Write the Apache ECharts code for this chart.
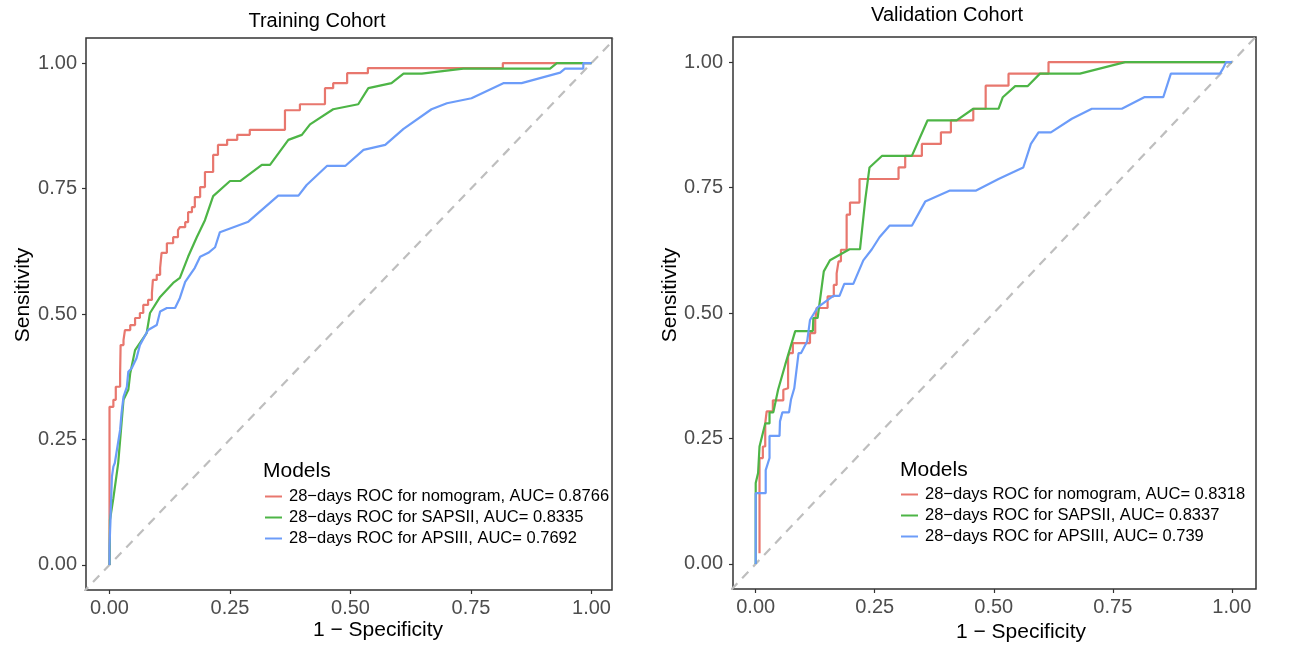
<!DOCTYPE html>
<html>
<head>
<meta charset="utf-8">
<script src="https://cdn.jsdelivr.net/npm/echarts@6/dist/echarts.min.js"></script>
<style>
html,body{margin:0;padding:0;background:#fff;}
#chart{width:1296px;height:660px;}
</style>
</head>
<body>
<div id="chart"></div>
<script>
// ---------- data ----------
const panelTitles = ['Training Cohort', 'Validation Cohort'];
const legendTitle = 'Models';
const xAxisTitle = '1 \u2212 Specificity';
const yAxisTitle = 'Sensitivity';
const tickValues = [0, 0.25, 0.5, 0.75, 1];

const trainNames = [
  '28\u2212days ROC for nomogram, AUC= 0.8766',
  '28\u2212days ROC for SAPSII, AUC= 0.8335',
  '28\u2212days ROC for APSIII, AUC= 0.7692'
];
const validNames = [
  '28\u2212days ROC for nomogram, AUC= 0.8318',
  '28\u2212days ROC for SAPSII, AUC= 0.8337',
  '28\u2212days ROC for APSIII, AUC= 0.739'
];

// Training cohort (x = 1 - specificity, y = sensitivity); nomogram is a staircase
const trainNomogram = [[0,0],[0,0.315],[0.008,0.329],[0.013,0.355],[0.022,0.382],[0.023,0.438],[0.029,0.448],[0.032,0.468],[0.043,0.478],[0.053,0.492],[0.063,0.502],[0.070,0.518],[0.080,0.528],[0.088,0.542],[0.090,0.568],[0.098,0.578],[0.105,0.592],[0.108,0.622],[0.119,0.641],[0.132,0.653],[0.142,0.667],[0.146,0.673],[0.157,0.683],[0.163,0.703],[0.171,0.713],[0.177,0.733],[0.188,0.753],[0.198,0.783],[0.215,0.817],[0.225,0.837],[0.244,0.847],[0.265,0.857],[0.291,0.867],[0.364,0.906],[0.395,0.918],[0.447,0.950],[0.464,0.960],[0.493,0.980],[0.536,0.990],[0.816,1.0],[1,1]];
const trainSAPSII = [[0,0],[0.001,0.090],[0.008,0.133],[0.018,0.203],[0.025,0.283],[0.029,0.329],[0.039,0.349],[0.043,0.382],[0.053,0.428],[0.077,0.462],[0.084,0.502],[0.105,0.534],[0.132,0.562],[0.146,0.572],[0.163,0.614],[0.181,0.653],[0.198,0.687],[0.215,0.735],[0.250,0.765],[0.271,0.765],[0.316,0.797],[0.333,0.797],[0.371,0.847],[0.399,0.857],[0.416,0.878],[0.464,0.908],[0.516,0.918],[0.537,0.950],[0.585,0.960],[0.610,0.979],[0.648,0.979],[0.734,0.989],[0.914,0.989],[0.928,1.0],[1,1]];
const trainAPSIII = [[0,0],[0,0.036],[0.005,0.176],[0.008,0.196],[0.011,0.203],[0.022,0.269],[0.025,0.303],[0.029,0.335],[0.036,0.355],[0.039,0.385],[0.046,0.392],[0.056,0.412],[0.063,0.438],[0.080,0.468],[0.098,0.478],[0.105,0.505],[0.119,0.512],[0.136,0.512],[0.146,0.532],[0.157,0.564],[0.177,0.592],[0.188,0.614],[0.205,0.622],[0.219,0.633],[0.229,0.663],[0.288,0.684],[0.350,0.736],[0.392,0.736],[0.409,0.757],[0.451,0.795],[0.489,0.795],[0.527,0.827],[0.572,0.837],[0.610,0.869],[0.668,0.908],[0.700,0.920],[0.751,0.930],[0.817,0.960],[0.855,0.960],[0.935,0.981],[0.945,0.989],[0.983,0.989],[0.983,1.0],[1,1]];

// Validation cohort
const validNomogram = [[0.008,0.021],[0.008,0.211],[0.015,0.234],[0.020,0.280],[0.023,0.304],[0.036,0.326],[0.058,0.347],[0.061,0.350],[0.068,0.413],[0.071,0.420],[0.078,0.440],[0.114,0.460],[0.125,0.486],[0.128,0.510],[0.151,0.533],[0.164,0.556],[0.170,0.579],[0.174,0.603],[0.179,0.626],[0.191,0.696],[0.198,0.720],[0.218,0.767],[0.300,0.790],[0.314,0.813],[0.349,0.837],[0.389,0.860],[0.410,0.884],[0.457,0.907],[0.483,0.953],[0.531,0.977],[0.615,1.0],[1,1]];
const validSAPSII = [[0,0],[0,0.161],[0.005,0.181],[0.008,0.234],[0.020,0.280],[0.029,0.280],[0.029,0.302],[0.037,0.302],[0.047,0.347],[0.050,0.350],[0.062,0.397],[0.083,0.464],[0.120,0.464],[0.121,0.490],[0.130,0.490],[0.143,0.583],[0.156,0.605],[0.197,0.627],[0.219,0.627],[0.230,0.725],[0.239,0.790],[0.265,0.813],[0.328,0.813],[0.361,0.884],[0.422,0.884],[0.457,0.907],[0.510,0.907],[0.519,0.930],[0.545,0.952],[0.571,0.952],[0.597,0.977],[0.681,0.977],[0.776,1.0],[1,1]];
const validAPSIII = [[0,0],[0,0.141],[0.021,0.141],[0.021,0.187],[0.029,0.211],[0.029,0.255],[0.050,0.255],[0.051,0.284],[0.056,0.302],[0.070,0.302],[0.074,0.327],[0.081,0.350],[0.090,0.420],[0.095,0.420],[0.108,0.443],[0.114,0.486],[0.130,0.511],[0.163,0.534],[0.176,0.534],[0.186,0.558],[0.205,0.558],[0.226,0.605],[0.244,0.627],[0.260,0.651],[0.281,0.674],[0.328,0.674],[0.356,0.722],[0.408,0.744],[0.463,0.744],[0.510,0.767],[0.555,0.787],[0.562,0.790],[0.578,0.837],[0.594,0.860],[0.620,0.860],[0.664,0.887],[0.706,0.907],[0.769,0.907],[0.816,0.930],[0.856,0.930],[0.872,0.977],[0.975,0.977],[0.982,0.988],[0.988,1.0],[1,1]];

const diagonal = [[-1,-1],[2,2]];
// ---------- styles ----------
const colors = ['#E8776E', '#4DB546', '#6C9CF9'];
const FONT = 'Liberation Sans, Arial, Helvetica, sans-serif';

const chart = echarts.init(document.getElementById('chart'), null, {renderer: 'canvas'});

function xAxisCfg(gi, min, max) {
  return {
    type: 'value', gridIndex: gi, min: min, max: max, position: 'bottom',
    axisLine: {show: false, onZero: false},
    splitLine: {show: false},
    axisTick: {show: true, length: 4, customValues: tickValues, lineStyle: {color: '#333', width: 1.2}},
    axisLabel: {customValues: tickValues, formatter: v => v.toFixed(2), color: '#4D4D4D', fontSize: 20, fontFamily: FONT, margin: 8}
  };
}
function yAxisCfg(gi, margin) {
  return {
    type: 'value', gridIndex: gi, min: -0.05, max: 1.05, position: 'left',
    axisLine: {show: false, onZero: false},
    splitLine: {show: false},
    axisTick: {show: true, length: 4, customValues: tickValues, lineStyle: {color: '#333', width: 1.2}},
    axisLabel: {customValues: tickValues, formatter: v => v.toFixed(2), color: '#4D4D4D', fontSize: 20, fontFamily: FONT, margin: margin}
  };
}

function curve(name, data, gi, color, step) {
  return {
    name: name, type: 'line', xAxisIndex: gi, yAxisIndex: gi, data: data,
    showSymbol: false, symbol: 'none', step: step || false, clip: true,
    lineStyle: {color: color, width: 2.2}, itemStyle: {color: color},
    animation: false, z: 3
  };
}
function diag(gi) {
  return {
    type: 'line', xAxisIndex: gi, yAxisIndex: gi, data: diagonal, showSymbol: false, symbol: 'none', clip: true,
    lineStyle: {color: '#BEBEBE', width: 2.2, type: [9, 7]}, animation: false, silent: true, z: 2
  };
}

function legendCfg(names, left, top) {
  return {
    data: names, orient: 'vertical', left: left, top: top,
    icon: 'rect', itemWidth: 17, itemHeight: 2, itemGap: 2,
    selectedMode: false,
    textStyle: {fontSize: 16.5, fontFamily: FONT, color: '#000', lineHeight: 19, padding: [0, 0, 0, 2]}
  };
}

const option = {
  backgroundColor: '#fff',
  animation: false,
  grid: [
    {left: 86, top: 38, width: 526, height: 552, show: true, borderColor: '#333', borderWidth: 1.5, backgroundColor: 'transparent'},
    {left: 733, top: 37, width: 523, height: 552, show: true, borderColor: '#333', borderWidth: 1.5, backgroundColor: 'transparent'}
  ],
  xAxis: [xAxisCfg(0, -0.0488, 1.0425), xAxisCfg(1, -0.0477, 1.0508)],
  yAxis: [yAxisCfg(0, 9), yAxisCfg(1, 10)],
  legend: [legendCfg(trainNames, 260, 482), legendCfg(validNames, 896, 480)],
  series: [
    diag(0), diag(1),
    curve(trainNames[0], trainNomogram, 0, colors[0], 'end'),
    curve(trainNames[1], trainSAPSII, 0, colors[1]),
    curve(trainNames[2], trainAPSIII, 0, colors[2]),
    curve(validNames[0], validNomogram, 1, colors[0], 'end'),
    curve(validNames[1], validSAPSII, 1, colors[1]),
    curve(validNames[2], validAPSIII, 1, colors[2])
  ],
  graphic: [
    {type: 'text', x: 317, y: 21, style: {text: panelTitles[0], font: '20px ' + FONT, fill: '#000', align: 'center', verticalAlign: 'middle'}},
    {type: 'text', x: 947, y: 15, style: {text: panelTitles[1], font: '20px ' + FONT, fill: '#000', align: 'center', verticalAlign: 'middle'}},
    {type: 'text', x: 378, y: 630, style: {text: xAxisTitle, font: '21px ' + FONT, fill: '#000', align: 'center', verticalAlign: 'middle'}},
    {type: 'text', x: 1021, y: 632, style: {text: xAxisTitle, font: '21px ' + FONT, fill: '#000', align: 'center', verticalAlign: 'middle'}},
    {type: 'text', x: 23, y: 295, rotation: Math.PI / 2, style: {text: yAxisTitle, font: '21px ' + FONT, fill: '#000', align: 'center', verticalAlign: 'middle'}},
    {type: 'text', x: 670, y: 295, rotation: Math.PI / 2, style: {text: yAxisTitle, font: '21px ' + FONT, fill: '#000', align: 'center', verticalAlign: 'middle'}},
    {type: 'text', x: 263, y: 471, style: {text: legendTitle, font: '21px ' + FONT, fill: '#000', align: 'left', verticalAlign: 'middle'}},
    {type: 'text', x: 900, y: 470, style: {text: legendTitle, font: '21px ' + FONT, fill: '#000', align: 'left', verticalAlign: 'middle'}}
  ]
};
chart.setOption(option);
</script>
</body>
</html>
